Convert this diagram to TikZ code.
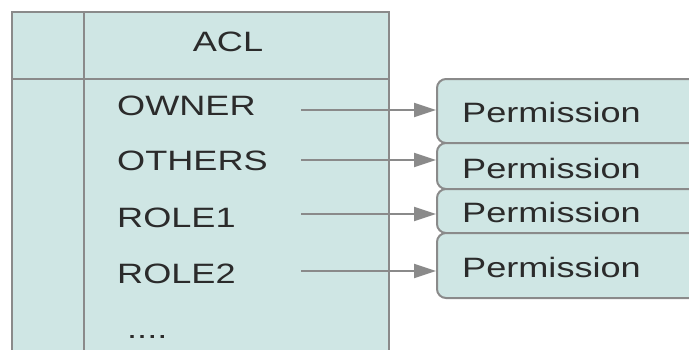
\documentclass[tikz,border=0pt]{standalone}
\usepackage{fontspec}
\setmainfont{Liberation Sans}[FakeStretch=1.29]
\usetikzlibrary{arrows.meta}
\definecolor{cellfill}{HTML}{CFE6E4}
\definecolor{edgegrey}{HTML}{8A8A8A}
\definecolor{ink}{HTML}{2B2B2B}
\tikzset{
  grid/.style={draw=edgegrey, line width=2pt},
  lbl/.style={anchor=base west, inner sep=0pt, text=ink, font=\fontsize{28}{30}\selectfont},
  permbox/.style={draw=edgegrey, fill=cellfill, line width=2pt, rounded corners=9pt,
                  minimum width=283pt, inner sep=0pt},
  link/.style={draw=edgegrey, line width=2pt, -{Triangle[length=22pt,width=14pt]}}
}
\begin{document}
\begin{tikzpicture}[x=1pt, y=-1pt]
\useasboundingbox (0,0) rectangle (689,349);
% ACL table
\fill[cellfill] (12,12) rectangle (389,360);
\draw[grid] (12,360) -- (12,12) -- (389,12) -- (389,360);
\draw[grid] (84,12) -- (84,360);
\draw[grid] (12,79) -- (389,79);
\node[lbl, anchor=base] (acl) at (228,51) {ACL};
\node[lbl] (owner) at (117,115) {OWNER};
\node[lbl] (others) at (117,170) {OTHERS};
\node[lbl] (role1) at (117,227) {ROLE1};
\node[lbl] (role2) at (117,283) {ROLE2};
\node[lbl] (more) at (127,338) {....};
% permission boxes
\node[permbox, minimum height=64pt] (p1) at (578.5,111) {};
\node[permbox, minimum height=46pt] (p2) at (578.5,166) {};
\node[permbox, minimum height=44pt] (p3) at (578.5,211) {};
\node[permbox, minimum height=65pt] (p4) at (578.5,265.5) {};
\node[lbl] (t1) at (462,122) {Permission};
\node[lbl] (t2) at (462,178) {Permission};
\node[lbl] (t3) at (462,222) {Permission};
\node[lbl] (t4) at (462,277) {Permission};
% links from roles to permissions
\coordinate (s1) at (301,110);
\coordinate (s2) at (301,160);
\coordinate (s3) at (301,214);
\coordinate (s4) at (301,271);
\draw[link] (s1) -- (s1 -| p1.west);
\draw[link] (s2) -- (s2 -| p2.west);
\draw[link] (s3) -- (s3 -| p3.west);
\draw[link] (s4) -- (s4 -| p4.west);
\end{tikzpicture}
\end{document}
